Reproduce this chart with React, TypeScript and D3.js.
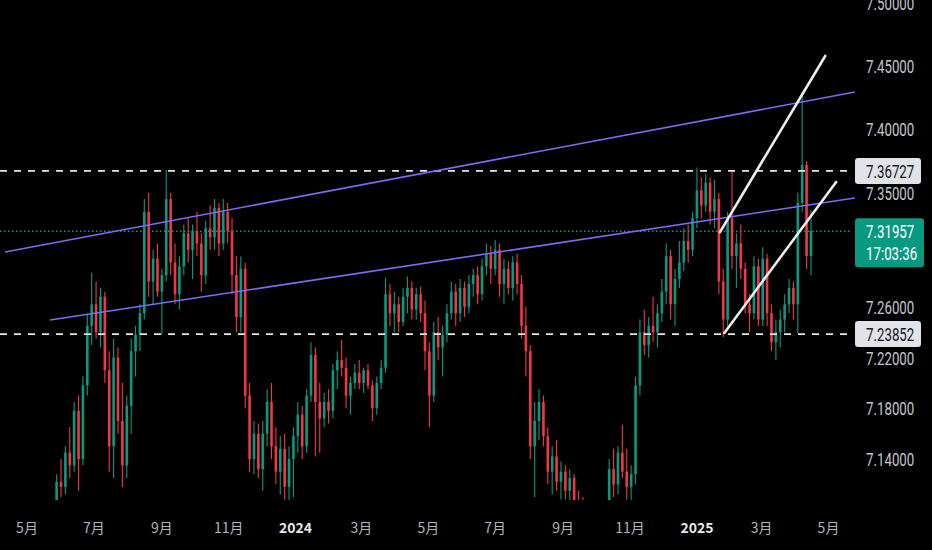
import React, { useEffect, useRef } from 'react';
import * as d3 from 'd3';

// open, high, low, close
type Bar = [number, number, number, number];

const startDate = '2023-05-28';
const stepDays = 4;

const ohlc2023: Bar[] = [
  [7.105, 7.128, 7.098, 7.122], [7.122, 7.140, 7.110, 7.118], [7.118, 7.150, 7.112, 7.145],
  [7.145, 7.165, 7.125, 7.135], [7.135, 7.185, 7.130, 7.178], [7.178, 7.190, 7.115, 7.140],
  [7.140, 7.205, 7.135, 7.198], [7.198, 7.255, 7.190, 7.245], [7.245, 7.287, 7.230, 7.262],
  [7.262, 7.280, 7.235, 7.240], [7.240, 7.275, 7.228, 7.268], [7.268, 7.272, 7.200, 7.210],
  [7.210, 7.225, 7.130, 7.150], [7.150, 7.235, 7.125, 7.220], [7.220, 7.228, 7.160, 7.170],
  [7.170, 7.200, 7.118, 7.135], [7.135, 7.190, 7.125, 7.182], [7.182, 7.235, 7.160, 7.225],
  [7.225, 7.245, 7.205, 7.238], [7.238, 7.262, 7.225, 7.255], [7.255, 7.345, 7.250, 7.335],
  [7.335, 7.350, 7.268, 7.280], [7.280, 7.305, 7.262, 7.298], [7.298, 7.310, 7.268, 7.272],
  [7.272, 7.290, 7.238, 7.285], [7.285, 7.368, 7.280, 7.345], [7.345, 7.350, 7.285, 7.295],
  [7.295, 7.310, 7.262, 7.270], [7.270, 7.300, 7.258, 7.292], [7.292, 7.325, 7.285, 7.318],
  [7.318, 7.330, 7.295, 7.305], [7.305, 7.325, 7.282, 7.320], [7.320, 7.335, 7.300, 7.310],
  [7.310, 7.318, 7.272, 7.285], [7.285, 7.328, 7.278, 7.322], [7.322, 7.340, 7.305, 7.315],
  [7.315, 7.345, 7.305, 7.338], [7.338, 7.342, 7.300, 7.310], [7.310, 7.345, 7.305, 7.335],
  [7.335, 7.342, 7.310, 7.320], [7.320, 7.330, 7.270, 7.285], [7.285, 7.300, 7.240, 7.252],
  [7.252, 7.300, 7.240, 7.290], [7.290, 7.295, 7.180, 7.190], [7.190, 7.200, 7.130, 7.140],
  [7.140, 7.170, 7.128, 7.160], [7.160, 7.168, 7.125, 7.132], [7.132, 7.170, 7.115, 7.160],
  [7.160, 7.195, 7.150, 7.185], [7.185, 7.200, 7.140, 7.150], [7.150, 7.165, 7.120, 7.130],
  [7.130, 7.158, 7.112, 7.148], [7.148, 7.160, 7.108, 7.118], [7.118, 7.150, 7.105, 7.140],
  [7.140, 7.165, 7.110, 7.158],
];

const ohlc2024: Bar[] = [
  [7.158, 7.185, 7.145, 7.175], [7.175, 7.182, 7.140, 7.150], [7.150, 7.195, 7.145, 7.190],
  [7.190, 7.232, 7.185, 7.222], [7.222, 7.228, 7.142, 7.185], [7.185, 7.200, 7.145, 7.172],
  [7.172, 7.192, 7.165, 7.185], [7.185, 7.195, 7.168, 7.178], [7.178, 7.215, 7.172, 7.210],
  [7.210, 7.225, 7.195, 7.218], [7.218, 7.234, 7.205, 7.212], [7.212, 7.220, 7.180, 7.190],
  [7.190, 7.205, 7.175, 7.200], [7.200, 7.215, 7.195, 7.208], [7.208, 7.218, 7.195, 7.200],
  [7.200, 7.212, 7.192, 7.210], [7.210, 7.215, 7.195, 7.198], [7.198, 7.202, 7.170, 7.180],
  [7.180, 7.205, 7.175, 7.200], [7.200, 7.218, 7.195, 7.212], [7.212, 7.283, 7.208, 7.270],
  [7.270, 7.278, 7.245, 7.255], [7.255, 7.272, 7.240, 7.262], [7.262, 7.268, 7.240, 7.248],
  [7.248, 7.275, 7.245, 7.268], [7.268, 7.284, 7.255, 7.275], [7.275, 7.280, 7.250, 7.258],
  [7.258, 7.275, 7.250, 7.270], [7.270, 7.276, 7.248, 7.255], [7.255, 7.265, 7.210, 7.225],
  [7.225, 7.232, 7.165, 7.190], [7.190, 7.248, 7.185, 7.240], [7.240, 7.252, 7.218, 7.228],
  [7.228, 7.245, 7.205, 7.238], [7.238, 7.262, 7.232, 7.255], [7.255, 7.280, 7.250, 7.272],
  [7.272, 7.278, 7.245, 7.255], [7.255, 7.282, 7.248, 7.275], [7.275, 7.280, 7.252, 7.260],
  [7.260, 7.285, 7.255, 7.278], [7.278, 7.290, 7.268, 7.285], [7.285, 7.292, 7.262, 7.270],
  [7.270, 7.298, 7.265, 7.292], [7.292, 7.310, 7.285, 7.302], [7.302, 7.308, 7.278, 7.290],
  [7.290, 7.313, 7.285, 7.305], [7.305, 7.310, 7.268, 7.278], [7.278, 7.298, 7.262, 7.290],
  [7.290, 7.296, 7.270, 7.275], [7.275, 7.300, 7.265, 7.295], [7.295, 7.302, 7.270, 7.278],
  [7.278, 7.285, 7.235, 7.245], [7.245, 7.260, 7.205, 7.225], [7.225, 7.230, 7.140, 7.150],
  [7.150, 7.185, 7.110, 7.170], [7.170, 7.195, 7.155, 7.185], [7.185, 7.190, 7.150, 7.158],
  [7.158, 7.165, 7.120, 7.130], [7.130, 7.150, 7.112, 7.142], [7.142, 7.155, 7.115, 7.122],
  [7.122, 7.138, 7.108, 7.130], [7.130, 7.135, 7.108, 7.115], [7.115, 7.132, 7.100, 7.125],
  [7.125, 7.128, 7.095, 7.105], [7.105, 7.115, 7.085, 7.095], [7.095, 7.110, 7.070, 7.080],
  [7.080, 7.090, 7.050, 7.060], [7.060, 7.075, 7.020, 7.030], [7.030, 7.060, 7.010, 7.050],
  [7.050, 7.080, 7.040, 7.070], [7.070, 7.100, 7.060, 7.090], [7.090, 7.140, 7.085, 7.132],
  [7.132, 7.148, 7.110, 7.120], [7.120, 7.150, 7.112, 7.145], [7.145, 7.167, 7.125, 7.130],
  [7.130, 7.148, 7.108, 7.118], [7.118, 7.135, 7.100, 7.128], [7.128, 7.205, 7.120, 7.198],
  [7.198, 7.250, 7.190, 7.240], [7.240, 7.258, 7.222, 7.230], [7.230, 7.252, 7.220, 7.245],
  [7.245, 7.268, 7.232, 7.240], [7.240, 7.262, 7.228, 7.255], [7.255, 7.282, 7.248, 7.272],
  [7.272, 7.310, 7.262, 7.300], [7.300, 7.305, 7.250, 7.262], [7.262, 7.290, 7.245, 7.282],
  [7.282, 7.312, 7.275, 7.295], [7.295, 7.322, 7.288, 7.312], [7.312, 7.325, 7.295, 7.305],
  [7.305, 7.335, 7.300, 7.330],
];

const ohlc2025: Bar[] = [
  [7.330, 7.370, 7.322, 7.352], [7.352, 7.362, 7.330, 7.340], [7.340, 7.365, 7.335, 7.358],
  [7.358, 7.362, 7.325, 7.335], [7.335, 7.360, 7.322, 7.345], [7.345, 7.350, 7.270, 7.280],
  [7.280, 7.290, 7.236, 7.250], [7.250, 7.335, 7.245, 7.330], [7.330, 7.368, 7.290, 7.300],
  [7.300, 7.318, 7.275, 7.310], [7.310, 7.325, 7.282, 7.290], [7.290, 7.295, 7.255, 7.262],
  [7.262, 7.270, 7.240, 7.255], [7.255, 7.300, 7.250, 7.292], [7.292, 7.298, 7.245, 7.250],
  [7.250, 7.307, 7.245, 7.298], [7.298, 7.302, 7.245, 7.255], [7.255, 7.262, 7.225, 7.232],
  [7.232, 7.250, 7.218, 7.240], [7.240, 7.258, 7.228, 7.250], [7.250, 7.270, 7.240, 7.262],
  [7.262, 7.282, 7.255, 7.275], [7.275, 7.280, 7.250, 7.262], [7.262, 7.350, 7.239, 7.342],
  [7.342, 7.429, 7.335, 7.372], [7.372, 7.375, 7.290, 7.300], [7.300, 7.336, 7.285, 7.31957],
];

// 7.30000 sits behind the last-price badge in the reference, so it is not listed
const priceTicks = [7.5, 7.45, 7.4, 7.35, 7.26, 7.22, 7.18, 7.14];

const timeTicks = [
  '2023-05-01', '2023-07-01', '2023-09-01', '2023-11-01', '2024-01-01', '2024-03-01',
  '2024-05-01', '2024-07-01', '2024-09-01', '2024-11-01', '2025-01-01', '2025-03-01', '2025-05-01',
];
const timeLabels = ['5月', '7月', '9月', '11月', '2024', '3月', '5月', '7月', '9月', '11月', '2025', '3月', '5月'];
const yearLabels = ['2024', '2025'];

const resistance = 7.36727;
const support = 7.23852;
const lastPrice = 7.31957;
const countdown = '17:03:36';

// trend lines as [date, price] pairs
const channelLines: [string, number][][] = [
  [['2023-04-11', 7.3033], ['2025-05-25', 7.4295]],
  [['2023-05-22', 7.2496], ['2025-05-25', 7.3459]],
];
const wedgeLines: [string, number][][] = [
  [['2025-01-22', 7.319], ['2025-04-28', 7.4579]],
  [['2025-01-26', 7.2394], ['2025-05-08', 7.3585]],
];

const W = 932;
const H = 550;
const UP = '#089981';
const DOWN = '#f23645';

const App: React.FC = () => {
  const svgRef = useRef<SVGSVGElement>(null);

  useEffect(() => {
    if (!svgRef.current) return;
    document.body.style.margin = '0';
    document.body.style.background = '#000';

    const svg = d3.select(svgRef.current);
    svg.selectAll('*').remove();

    const plotRight = 852;
    const plotBottom = 500;

    const x = d3.scaleUtc()
      .domain([new Date('2023-05-01'), new Date('2025-05-01')])
      .range([27, 828.5]);
    const y = d3.scaleLinear().domain([7.14, 7.45]).range([459, 66]);

    svg.append('rect').attr('width', W).attr('height', H).attr('fill', '#000');

    svg.append('defs').append('clipPath').attr('id', 'plot')
      .append('rect').attr('x', 0).attr('y', 0).attr('width', plotRight).attr('height', plotBottom);

    const plot = svg.append('g').attr('clip-path', 'url(#plot)');

    // candles
    const bars = [...ohlc2023, ...ohlc2024, ...ohlc2025];
    const t0 = new Date(startDate).getTime();
    const dateOf = (i: number) => new Date(t0 + i * stepDays * 86400000);
    const bodyW = 2.6;

    const candle = plot.append('g').selectAll('g')
      .data(bars)
      .enter()
      .append('g');

    candle.append('line')
      .attr('x1', (_, i) => x(dateOf(i)))
      .attr('x2', (_, i) => x(dateOf(i)))
      .attr('y1', d => y(d[1]))
      .attr('y2', d => y(d[2]))
      .attr('stroke', d => (d[3] >= d[0] ? UP : DOWN))
      .attr('stroke-width', 1.1);

    candle.append('rect')
      .attr('x', (_, i) => x(dateOf(i)) - bodyW / 2)
      .attr('width', bodyW)
      .attr('y', d => y(Math.max(d[0], d[3])))
      .attr('height', d => Math.max(1, Math.abs(y(d[0]) - y(d[3]))))
      .attr('fill', d => (d[3] >= d[0] ? UP : DOWN));

    // horizontal levels
    [resistance, support].forEach(v => {
      plot.append('line')
        .attr('x1', 0).attr('x2', 849)
        .attr('y1', y(v)).attr('y2', y(v))
        .attr('stroke', '#e6e6e6')
        .attr('stroke-width', 1.6)
        .attr('stroke-dasharray', '7,7');
    });

    plot.append('line')
      .attr('x1', 0).attr('x2', plotRight)
      .attr('y1', y(lastPrice)).attr('y2', y(lastPrice))
      .attr('stroke', UP)
      .attr('stroke-width', 1.5)
      .attr('stroke-dasharray', '1.5,2.5');

    // trend lines
    const seg = (pts: [string, number][]) =>
      d3.line<[string, number]>().x(p => x(new Date(p[0]))).y(p => y(p[1]))(pts);

    channelLines.forEach(pts => {
      svg.append('path').attr('d', seg(pts)).attr('fill', 'none')
        .attr('stroke', '#7b6cf4').attr('stroke-width', 1.6);
    });
    wedgeLines.forEach(pts => {
      svg.append('path').attr('d', seg(pts)).attr('fill', 'none')
        .attr('stroke', '#ececec').attr('stroke-width', 2.6).attr('stroke-linecap', 'round');
    });

    // right price scale: narrow digits, drawn squeezed horizontally
    const labelFont = 'Roboto, "DejaVu Sans", sans-serif';
    const squeeze = 0.7;
    const fmt = d3.format('.5f');
    const axisR = svg.append('g');

    const priceText = (txt: string, ty: number, color: string) =>
      axisR.append('text')
        .attr('transform', `translate(866,${ty}) scale(${squeeze},1)`)
        .style('font-family', labelFont)
        .style('font-size', '19px')
        .attr('fill', color)
        .text(txt);

    priceTicks.forEach(v => priceText(fmt(v), y(v) + 7, '#c3c6cd'));

    [resistance, support].forEach(v => {
      axisR.append('rect')
        .attr('x', 855).attr('y', y(v) - 13)
        .attr('width', 66).attr('height', 26)
        .attr('rx', 3)
        .attr('fill', '#e1e3e8');
      priceText(fmt(v), y(v) + 7, '#131722');
    });

    axisR.append('rect')
      .attr('x', 855).attr('y', y(lastPrice) - 13)
      .attr('width', 69).attr('height', 49)
      .attr('rx', 3)
      .attr('fill', UP);
    priceText(fmt(lastPrice), y(lastPrice) + 7, '#ffffff');
    priceText(countdown, y(lastPrice) + 29, '#ffffff');

    // time scale
    svg.append('g').selectAll('text')
      .data(timeTicks)
      .enter()
      .append('text')
      .attr('x', d => x(new Date(d)))
      .attr('y', 533)
      .attr('text-anchor', 'middle')
      .style('font-family', '"Noto Sans CJK SC", "Noto Sans", sans-serif')
      .style('font-size', '14px')
      .style('font-weight', (_, i) => (yearLabels.includes(timeLabels[i]) ? '700' : '400'))
      .attr('fill', (_, i) => (yearLabels.includes(timeLabels[i]) ? '#e8e9ec' : '#b2b5be'))
      .text((_, i) => timeLabels[i]);
  }, []);

  return (
    <svg
      ref={svgRef}
      width={W}
      height={H}
      style={{ position: 'absolute', left: 0, top: 0, display: 'block' }}
    />
  );
};

export default App;
